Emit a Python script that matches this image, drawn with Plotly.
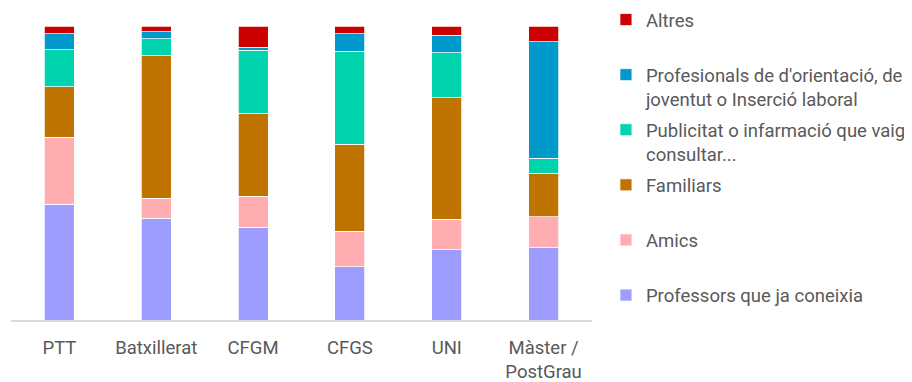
import plotly.graph_objects as go

categories = ["PTT", "Batxillerat", "CFGM", "CFGS", "UNI", "Màster /<br>PostGrau"]

series_names = [
    "Professors que ja coneixia",
    "Amics",
    "Familiars",
    "Publicitat o infarmació que vaig<br>consultar...",
    "Profesionals de d'orientació, de<br>joventut o Inserció laboral",
    "Altres",
]

professors = [39.4, 34.6, 31.5, 18.1, 23.9, 24.6]
amics = [22.8, 6.8, 10.6, 12.1, 10.3, 10.5]
familiars = [17.2, 48.4, 28.3, 29.5, 41.4, 14.8]
publicitat = [12.5, 5.8, 21.3, 31.7, 15.3, 5.1]
profesionals = [5.4, 2.4, 1.0, 6.0, 6.0, 39.7]
altres = [2.7, 2.0, 7.3, 2.6, 3.1, 5.3]

colors = ["#9D9DFF", "#FFADB1", "#C07400", "#00D4AE", "#0099CC", "#CC0000"]

FONT = "Roboto, Liberation Sans Narrow, sans-serif"
FS = 18.5

all_series = [professors, amics, familiars, publicitat, profesionals, altres]
n = len(all_series)

fig = go.Figure()
for i, (name, vals, col) in enumerate(zip(series_names, all_series, colors)):
    label = name if "<br>" in name else name + "<br> "
    fig.add_trace(go.Bar(
        x=categories, y=vals, name=label, legendgroup=f"g{i}",
        legendrank=n - i,
        marker=dict(color=col, line=dict(color="white", width=0.75)),
    ))

# page body adds an 8px offset; figure sized to fit the 912x382 window
fig.update_layout(
    barmode="stack",
    bargap=0.69,
    width=904, height=374,
    margin=dict(l=3, r=320, t=18, b=62, autoexpand=False),
    paper_bgcolor="white", plot_bgcolor="white",
    font=dict(family=FONT, size=FS, color="#595959"),
    showlegend=True,
    legend=dict(
        x=1.024, xanchor="left", y=1.085, yanchor="top",
        traceorder="grouped", valign="top",
        tracegroupgap=4,
        maxheight=400,
        font=dict(family=FONT, size=FS, color="#595959"),
        bgcolor="rgba(0,0,0,0)", itemclick=False,
    ),
)
fig.update_xaxes(
    showline=True, linecolor="#D9D9D9", linewidth=2,
    ticks="", showgrid=False, automargin=False, ticklabelstandoff=10,
    tickfont=dict(size=FS, color="#595959"),
)
fig.update_yaxes(range=[0, 100], visible=False, showgrid=False, automargin=False)

fig.write_html("out.html")
